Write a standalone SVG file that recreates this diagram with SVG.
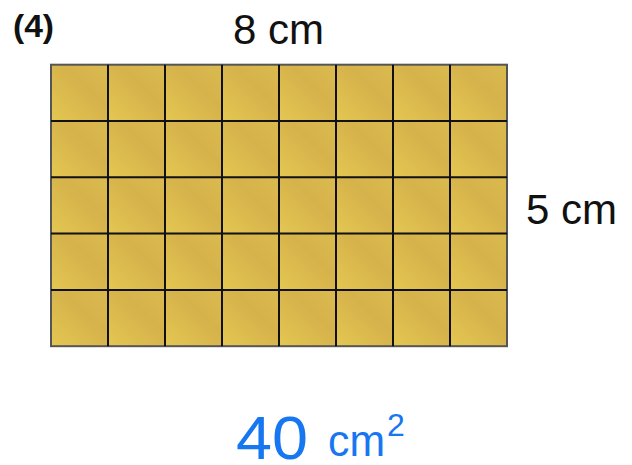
<svg xmlns="http://www.w3.org/2000/svg" width="632" height="465" viewBox="0 0 632 465">
<defs>
<linearGradient id="tile" x1="0" y1="1" x2="1" y2="0">
<stop offset="0" stop-color="#e4c752"/>
<stop offset="0.6" stop-color="#d6b24b"/>
<stop offset="1" stop-color="#dabb4f"/>
</linearGradient>
<pattern id="cells" x="51" y="64.7" width="57" height="56.3" patternUnits="userSpaceOnUse">
<rect width="57" height="56.3" fill="url(#tile)"/>
</pattern>
</defs>
<style>
.lbl{font-family:"Liberation Sans",Arial,sans-serif;fill:#111;}
.hand{font-family:"Liberation Sans",Arial,sans-serif;fill:#1677f0;}
.grid line{stroke:#111;stroke-width:2;}
</style>
<rect width="632" height="465" fill="#fff"/>
<text class="lbl" x="13" y="37" font-size="32" font-weight="bold" textLength="41" lengthAdjust="spacingAndGlyphs">(4)</text>
<text class="lbl" x="233" y="44" font-size="42">8 cm</text>
<text class="lbl" x="526" y="224" font-size="42">5 cm</text>
<g id="grid" class="grid">
<rect x="51" y="64.7" width="456" height="281.5" fill="url(#cells)" stroke="#555" stroke-width="2"/>
<line x1="108" y1="64.7" x2="108" y2="346.2"/>
<line x1="165" y1="64.7" x2="165" y2="346.2"/>
<line x1="222" y1="64.7" x2="222" y2="346.2"/>
<line x1="279" y1="64.7" x2="279" y2="346.2"/>
<line x1="336" y1="64.7" x2="336" y2="346.2"/>
<line x1="393" y1="64.7" x2="393" y2="346.2"/>
<line x1="450" y1="64.7" x2="450" y2="346.2"/>
<line x1="51" y1="121" x2="507" y2="121"/>
<line x1="51" y1="177.3" x2="507" y2="177.3"/>
<line x1="51" y1="233.6" x2="507" y2="233.6"/>
<line x1="51" y1="289.9" x2="507" y2="289.9"/>
</g>
<g id="answer">
<text class="hand" x="236" y="459" font-size="62" textLength="72" lengthAdjust="spacingAndGlyphs">40</text>
<text class="hand" x="328" y="456" font-size="44" textLength="57" lengthAdjust="spacingAndGlyphs">cm</text>
<text class="hand" x="387" y="436" font-size="32">2</text>
</g>
</svg>
